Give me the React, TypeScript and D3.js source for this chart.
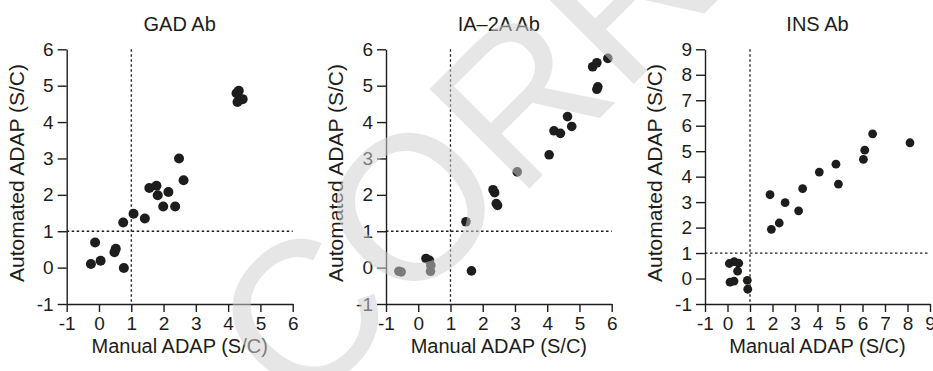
import React, { useEffect, useRef } from "react";
import * as d3 from "d3";

// panel titles and axis labels
const titles = ["GAD Ab", "IA–2A Ab", "INS Ab"];
const xLabel = "Manual ADAP (S/C)";
const yLabel = "Automated ADAP (S/C)";
const cutoff = 1;
const watermark = "CORRECTED PROOF";

const ticks6 = [-1, 0, 1, 2, 3, 4, 5, 6];
const ticks9 = [-1, 0, 1, 2, 3, 4, 5, 6, 7, 8, 9];

// [manual, automated]
const gadPoints: [number, number][] = [
  [-0.25, 0.1], [-0.12, 0.69], [0.05, 0.19], [0.48, 0.42], [0.52, 0.52],
  [0.77, -0.01], [0.75, 1.24], [1.07, 1.48], [1.42, 1.35], [1.56, 2.19],
  [1.78, 2.25], [1.82, 1.99], [2.15, 2.08], [1.99, 1.68], [2.36, 1.68],
  [2.48, 3.0], [2.62, 2.4], [4.26, 4.79], [4.33, 4.86], [4.45, 4.63], [4.29, 4.55],
];

const ia2aPoints: [number, number][] = [
  [-0.6, -0.1], [-0.53, -0.12], [0.24, 0.25], [0.35, 0.2], [0.39, 0.06], [0.38, -0.1],
  [1.48, 1.26], [1.65, -0.09], [2.32, 2.14], [2.37, 2.06], [2.42, 1.76], [2.46, 1.71],
  [3.07, 2.63], [4.06, 3.1], [4.21, 3.76], [4.41, 3.69], [4.63, 4.15], [4.76, 3.88],
  [5.41, 5.52], [5.54, 5.63], [5.88, 5.75], [5.57, 4.97], [5.54, 4.9],
];

const insPoints: [number, number][] = [
  [0.08, 0.59], [0.3, 0.66], [0.5, 0.6], [0.45, 0.29], [0.11, -0.14], [0.29, -0.1],
  [0.88, -0.07], [0.9, -0.42], [1.89, 3.29], [1.95, 1.93], [2.3, 2.18],
  [2.56, 2.98], [3.16, 2.66], [3.34, 3.53], [4.08, 4.18], [4.82, 4.49],
  [4.93, 3.71], [6.04, 4.68], [6.1, 5.04], [6.45, 5.68], [8.11, 5.33],
];

const W = 933;
const H = 371;
const FONT = "'Liberation Sans', Arial, Helvetica, sans-serif";
const INK = "#1d1d1b";

const panels = [
  { title: titles[0], x0: 66.7, x1: 292.7, max: 6, ticks: ticks6, r: 5, pts: gadPoints },
  { title: titles[1], x0: 386, x1: 611.7, max: 6, ticks: ticks6, r: 4.8, pts: ia2aPoints },
  { title: titles[2], x0: 705, x1: 930, max: 9, ticks: ticks9, r: 4.4, pts: insPoints },
];

const App = () => {
  const svgRef = useRef<SVGSVGElement>(null);

  useEffect(() => {
    const svg = d3.select(svgRef.current);
    svg.selectAll("*").remove();

    const top = 49.3;
    const bottom = 304;

    panels.forEach((p) => {
      const x = d3.scaleLinear().domain([-1, p.max]).range([p.x0, p.x1]);
      const y = d3.scaleLinear().domain([-1, p.max]).range([bottom, top]);
      const g = svg.append("g");

      // cut-off lines
      g.append("line")
        .attr("x1", x(cutoff)).attr("x2", x(cutoff))
        .attr("y1", y(p.max)).attr("y2", y(-1))
        .attr("stroke", INK).attr("stroke-width", 1.3).attr("stroke-dasharray", "2.5,2.5");
      g.append("line")
        .attr("x1", x(-1)).attr("x2", x(p.max))
        .attr("y1", y(cutoff)).attr("y2", y(cutoff))
        .attr("stroke", INK).attr("stroke-width", 1.3).attr("stroke-dasharray", "2.5,2.5");

      const fmt = (d: d3.NumberValue) => String(d);
      const xAxis = g.append("g")
        .attr("transform", `translate(0,${bottom})`)
        .call(d3.axisBottom(x).tickValues(p.ticks).tickSize(8).tickSizeOuter(0).tickPadding(5).tickFormat(fmt));
      const yAxis = g.append("g")
        .attr("transform", `translate(${p.x0},0)`)
        .call(d3.axisLeft(y).tickValues(p.ticks).tickSize(9).tickSizeOuter(0).tickPadding(4).tickFormat(fmt));

      [xAxis, yAxis].forEach((a) => {
        a.attr("font-family", FONT).attr("font-size", 19);
        a.selectAll("path, line").attr("stroke", INK).attr("stroke-width", 1.4);
        a.selectAll("text").attr("fill", INK);
      });

      g.append("g")
        .selectAll("circle")
        .data(p.pts)
        .join("circle")
        .attr("cx", (d) => x(d[0]))
        .attr("cy", (d) => y(d[1]))
        .attr("r", p.r)
        .attr("fill", INK);

      const cx = (p.x0 + p.x1) / 2;
      g.append("text")
        .attr("x", cx).attr("y", 30.5)
        .attr("text-anchor", "middle")
        .attr("font-family", FONT).attr("font-size", 20).attr("fill", INK)
        .text(p.title);
      g.append("text")
        .attr("x", cx).attr("y", 353)
        .attr("text-anchor", "middle")
        .attr("font-family", FONT).attr("font-size", 20).attr("fill", INK)
        .text(xLabel);
      g.append("text")
        .attr("transform", `translate(${p.x0 - 43},173) rotate(-90)`)
        .attr("text-anchor", "middle")
        .attr("font-family", FONT).attr("font-size", 21).attr("fill", INK)
        .text(yLabel);
    });

    // proof watermark, semi-transparent on top of the chart
    svg
      .append("text")
      .attr("transform", "translate(300,418) rotate(-45)")
      .attr("font-family", FONT)
      .attr("font-size", 205)
      .attr("fill", "rgb(208,208,208)")
      .attr("fill-opacity", 0.53)
      .text(watermark);
  }, []);

  return (
    <svg
      ref={svgRef}
      width={W}
      height={H}
      style={{ position: "absolute", left: 0, top: 0, background: "#fff" }}
    />
  );
};

export default App;
